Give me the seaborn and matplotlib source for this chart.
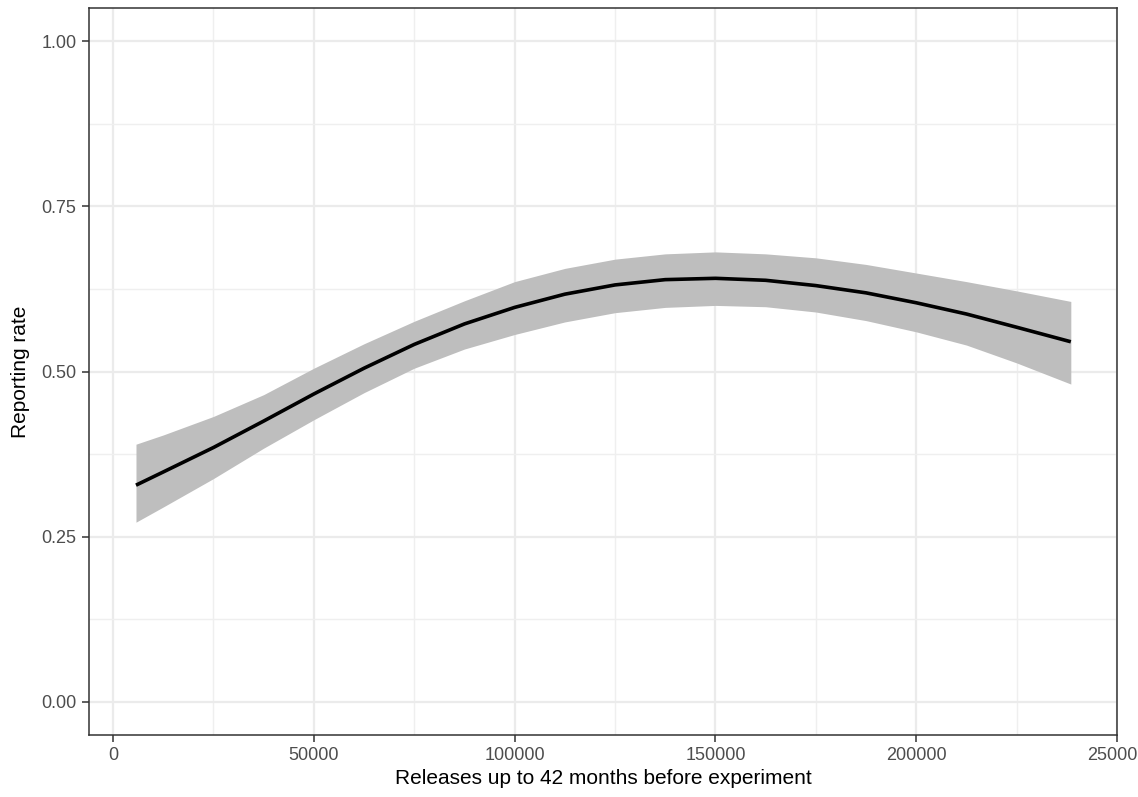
import matplotlib
matplotlib.use("Agg")
import matplotlib.pyplot as plt
import seaborn as sns
import pandas as pd
from matplotlib.ticker import MultipleLocator, FixedLocator

releases = [5700, 12500, 25000, 37500, 50000, 62500, 75000, 87500, 100000, 112500,
            125000, 137500, 150000, 162500, 175000, 187500, 200000, 212500, 225000, 238500]
rate = [0.328, 0.348, 0.385, 0.425, 0.466, 0.505, 0.541, 0.572, 0.597, 0.617,
        0.631, 0.639, 0.641, 0.638, 0.630, 0.619, 0.604, 0.587, 0.567, 0.545]
upper = [0.390, 0.404, 0.432, 0.465, 0.505, 0.542, 0.576, 0.607, 0.636, 0.656,
         0.670, 0.678, 0.681, 0.678, 0.672, 0.662, 0.649, 0.636, 0.622, 0.606]
lower = [0.272, 0.295, 0.338, 0.384, 0.427, 0.468, 0.505, 0.534, 0.556, 0.575,
         0.589, 0.597, 0.600, 0.598, 0.590, 0.577, 0.560, 0.540, 0.513, 0.481]
x_ticks = [0, 50000, 100000, 150000, 200000, 250000]
x_labels = ["0", "50000", "100000", "150000", "200000", "250000"]
y_ticks = [0.0, 0.25, 0.5, 0.75, 1.0]
y_labels = ["0.00", "0.25", "0.50", "0.75", "1.00"]

sns.set_theme(style="white")
plt.rcParams["font.family"] = ["Liberation Sans", "DejaVu Sans"]

df = pd.DataFrame({"releases": releases, "rate": rate, "upper": upper, "lower": lower})

fig = plt.figure(figsize=(11.38, 7.97), dpi=100)
ax = fig.add_axes([89/1138, 1 - 735/797, (1117-89)/1138, (735-8)/797])

ax.fill_between(df["releases"], df["lower"], df["upper"], color="#BEBEBE", linewidth=0, zorder=2)
sns.lineplot(data=df, x="releases", y="rate", ax=ax, color="black", linewidth=2.6, zorder=3,
             solid_joinstyle="round", solid_capstyle="butt")

ax.set_xlim(-6000, 250000)
ax.set_ylim(-0.05, 1.05)
ax.xaxis.set_major_locator(FixedLocator(x_ticks))
ax.set_xticklabels(x_labels)
ax.yaxis.set_major_locator(FixedLocator(y_ticks))
ax.set_yticklabels(y_labels)
ax.xaxis.set_minor_locator(MultipleLocator(25000))
ax.yaxis.set_minor_locator(MultipleLocator(0.125))

ax.grid(which="major", color="#EBEBEB", linewidth=1.6, zorder=0)
ax.grid(which="minor", color="#EFEFEF", linewidth=1.0, zorder=0)
ax.set_axisbelow(True)

for s in ax.spines.values():
    s.set_visible(True)
    s.set_color("#333333")
    s.set_linewidth(1.1)

ax.tick_params(which="major", direction="out", length=5, width=1.1, color="#333333",
               labelsize=13, labelcolor="#4D4D4D", pad=4, bottom=True, left=True)
ax.tick_params(which="minor", length=0)

ax.set_xlabel("Releases up to 42 months before experiment", fontsize=15, color="black", labelpad=3)
ax.set_ylabel("Reporting rate", fontsize=15, color="black", labelpad=8)

fig.savefig("out.png", dpi=100)
